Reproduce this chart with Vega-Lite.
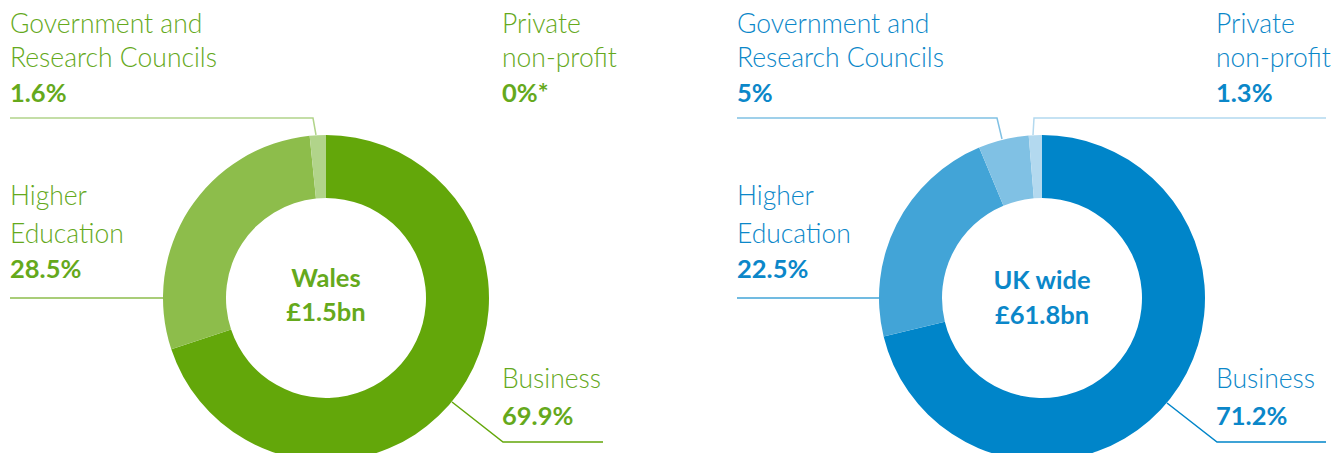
{
  "$schema": "https://vega.github.io/schema/vega-lite/v6.json",
  "width": 1340,
  "height": 453,
  "autosize": {"type": "fit", "contains": "padding"},
  "padding": 0,
  "background": "white",
  "config": {"view": {"stroke": null}},
  "datasets": {
    "segments": [
      {"region": "Wales", "sector": "Business", "value": 69.9, "ord": 1, "cx": 326, "cy": 298, "key": "Wales|Business"},
      {"region": "Wales", "sector": "Higher Education", "value": 28.5, "ord": 2, "cx": 326, "cy": 298, "key": "Wales|HE"},
      {"region": "Wales", "sector": "Government and Research Councils", "value": 1.6, "ord": 3, "cx": 326, "cy": 298, "key": "Wales|Gov"},
      {"region": "Wales", "sector": "Private non-profit", "value": 0, "ord": 4, "cx": 326, "cy": 298, "key": "Wales|Private"},
      {"region": "UK", "sector": "Business", "value": 71.2, "ord": 1, "cx": 1042, "cy": 298, "key": "UK|Business"},
      {"region": "UK", "sector": "Higher Education", "value": 22.5, "ord": 2, "cx": 1042, "cy": 298, "key": "UK|HE"},
      {"region": "UK", "sector": "Government and Research Councils", "value": 5, "ord": 3, "cx": 1042, "cy": 298, "key": "UK|Gov"},
      {"region": "UK", "sector": "Private non-profit", "value": 1.3, "ord": 4, "cx": 1042, "cy": 298, "key": "UK|Private"}
    ],
    "leaders": [
      {"line": "W-gov", "i": 0, "x": 10, "y": 118, "key": "Wales|Gov"},
      {"line": "W-gov", "i": 1, "x": 313, "y": 118, "key": "Wales|Gov"},
      {"line": "W-gov", "i": 2, "x": 316, "y": 135, "key": "Wales|Gov"},
      {"line": "W-he", "i": 0, "x": 10, "y": 298, "key": "Wales|HE"},
      {"line": "W-he", "i": 1, "x": 164, "y": 298, "key": "Wales|HE"},
      {"line": "W-bus", "i": 0, "x": 452, "y": 402, "key": "Wales|Business"},
      {"line": "W-bus", "i": 1, "x": 503, "y": 442, "key": "Wales|Business"},
      {"line": "W-bus", "i": 2, "x": 603, "y": 442, "key": "Wales|Business"},
      {"line": "U-gov", "i": 0, "x": 737, "y": 118, "key": "UK|Gov"},
      {"line": "U-gov", "i": 1, "x": 997, "y": 118, "key": "UK|Gov"},
      {"line": "U-gov", "i": 2, "x": 1002, "y": 139, "key": "UK|Gov"},
      {"line": "U-priv", "i": 0, "x": 1033, "y": 135, "key": "UK|Private"},
      {"line": "U-priv", "i": 1, "x": 1034, "y": 118, "key": "UK|Private"},
      {"line": "U-priv", "i": 2, "x": 1326, "y": 118, "key": "UK|Private"},
      {"line": "U-he", "i": 0, "x": 737, "y": 298, "key": "UK|HE"},
      {"line": "U-he", "i": 1, "x": 880, "y": 298, "key": "UK|HE"},
      {"line": "U-bus", "i": 0, "x": 1167, "y": 403, "key": "UK|Business"},
      {"line": "U-bus", "i": 1, "x": 1217, "y": 442, "key": "UK|Business"},
      {"line": "U-bus", "i": 2, "x": 1326, "y": 442, "key": "UK|Business"}
    ],
    "labels": [
      {"kind": "name", "text": "Government and", "x": 10, "y": 33, "key": "Wales|text"},
      {"kind": "name", "text": "Research Councils", "x": 10, "y": 67, "key": "Wales|text"},
      {"kind": "pct", "text": "1.6%", "x": 10, "y": 102, "key": "Wales|text"},
      {"kind": "name", "text": "Private", "x": 502, "y": 33, "key": "Wales|text"},
      {"kind": "name", "text": "non-profit", "x": 502, "y": 67, "key": "Wales|text"},
      {"kind": "pct", "text": "0%*", "x": 502, "y": 102, "key": "Wales|text"},
      {"kind": "name", "text": "Higher", "x": 10, "y": 205, "key": "Wales|text"},
      {"kind": "name", "text": "Education", "x": 10, "y": 243, "key": "Wales|text"},
      {"kind": "pct", "text": "28.5%", "x": 10, "y": 278, "key": "Wales|text"},
      {"kind": "name", "text": "Business", "x": 502, "y": 388, "key": "Wales|text"},
      {"kind": "pct", "text": "69.9%", "x": 502, "y": 425, "key": "Wales|text"},
      {"kind": "center", "text": "Wales", "x": 326, "y": 287, "key": "Wales|text"},
      {"kind": "center", "text": "£1.5bn", "x": 326, "y": 321, "key": "Wales|text"},
      {"kind": "name", "text": "Government and", "x": 737, "y": 33, "key": "UK|text"},
      {"kind": "name", "text": "Research Councils", "x": 737, "y": 67, "key": "UK|text"},
      {"kind": "pct", "text": "5%", "x": 737, "y": 102, "key": "UK|text"},
      {"kind": "name", "text": "Private", "x": 1216, "y": 33, "key": "UK|text"},
      {"kind": "name", "text": "non-profit", "x": 1216, "y": 67, "key": "UK|text"},
      {"kind": "pct", "text": "1.3%", "x": 1216, "y": 102, "key": "UK|text"},
      {"kind": "name", "text": "Higher", "x": 737, "y": 205, "key": "UK|text"},
      {"kind": "name", "text": "Education", "x": 737, "y": 243, "key": "UK|text"},
      {"kind": "pct", "text": "22.5%", "x": 737, "y": 278, "key": "UK|text"},
      {"kind": "name", "text": "Business", "x": 1216, "y": 388, "key": "UK|text"},
      {"kind": "pct", "text": "71.2%", "x": 1216, "y": 425, "key": "UK|text"},
      {"kind": "center", "text": "UK wide", "x": 1042, "y": 289, "key": "UK|text"},
      {"kind": "center", "text": "£61.8bn", "x": 1042, "y": 324, "key": "UK|text"}
    ]
  },
  "layer": [
    {
      "data": {"name": "segments"},
      "transform": [{"filter": "datum.region === 'Wales'"}],
      "mark": {"type": "arc", "radius": 163, "radius2": 100, "clip": true},
      "encoding": {
        "x": {"field": "cx", "type": "quantitative", "scale": {"domain": [0, 1340], "nice": false, "zero": false}, "axis": null},
        "y": {"field": "cy", "type": "quantitative", "scale": {"domain": [0, 453], "nice": false, "zero": false, "reverse": true}, "axis": null},
        "theta": {"field": "value", "type": "quantitative", "stack": true, "scale": {"domain": [0, 100]}},
        "order": {"field": "ord", "type": "quantitative"},
        "color": {"field": "key", "type": "nominal", "legend": null,
          "scale": {
            "domain": ["Wales|Business", "Wales|HE", "Wales|Gov", "Wales|Private", "UK|Business", "UK|HE", "UK|Gov", "UK|Private", "Wales|text", "UK|text"],
            "range": ["#63a70a", "#8dbd4b", "#b1d48a", "#d0e5b8", "#0085c9", "#42a4d7", "#80c1e4", "#b3d9ef", "#65a91c", "#0b87c9"]
          }
        }
      }
    },
    {
      "data": {"name": "segments"},
      "transform": [{"filter": "datum.region === 'UK'"}],
      "mark": {"type": "arc", "radius": 163, "radius2": 100, "clip": true},
      "encoding": {
        "x": {"field": "cx", "type": "quantitative"},
        "y": {"field": "cy", "type": "quantitative"},
        "theta": {"field": "value", "type": "quantitative", "stack": true},
        "order": {"field": "ord", "type": "quantitative"},
        "color": {"field": "key", "type": "nominal"}
      }
    },
    {
      "data": {"name": "leaders"},
      "mark": {"type": "line", "strokeWidth": 1.5, "interpolate": "linear"},
      "encoding": {
        "x": {"field": "x", "type": "quantitative"},
        "y": {"field": "y", "type": "quantitative"},
        "detail": {"field": "line", "type": "nominal"},
        "order": {"field": "i", "type": "quantitative"},
        "color": {"field": "key", "type": "nominal"}
      }
    },
    {
      "data": {"name": "labels"},
      "transform": [{"filter": "datum.kind === 'name'"}],
      "mark": {"type": "text", "align": "left", "baseline": "alphabetic", "font": "Lato", "fontWeight": 300, "fontSize": 26.5},
      "encoding": {
        "x": {"field": "x", "type": "quantitative"},
        "y": {"field": "y", "type": "quantitative"},
        "text": {"field": "text", "type": "nominal"},
        "color": {"field": "key", "type": "nominal"}
      }
    },
    {
      "data": {"name": "labels"},
      "transform": [{"filter": "datum.kind === 'pct'"}],
      "mark": {"type": "text", "align": "left", "baseline": "alphabetic", "font": "Lato", "fontWeight": 700, "fontSize": 25.5},
      "encoding": {
        "x": {"field": "x", "type": "quantitative"},
        "y": {"field": "y", "type": "quantitative"},
        "text": {"field": "text", "type": "nominal"},
        "color": {"field": "key", "type": "nominal"}
      }
    },
    {
      "data": {"name": "labels"},
      "transform": [{"filter": "datum.kind === 'center'"}],
      "mark": {"type": "text", "align": "center", "baseline": "alphabetic", "font": "Lato", "fontWeight": 700, "fontSize": 25.5},
      "encoding": {
        "x": {"field": "x", "type": "quantitative"},
        "y": {"field": "y", "type": "quantitative"},
        "text": {"field": "text", "type": "nominal"},
        "color": {"field": "key", "type": "nominal"}
      }
    }
  ]
}
